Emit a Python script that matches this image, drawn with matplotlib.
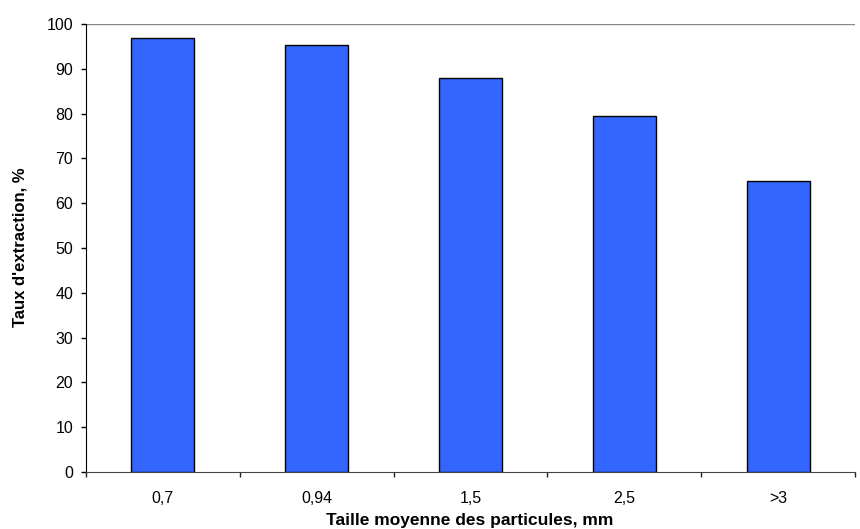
import matplotlib.pyplot as plt
import numpy as np

# Data
categories = ['0,7', '0,94', '1,5', '2,5', '>3']
taux = [96.8, 95.3, 87.9, 79.4, 65.0]

plt.rcParams['font.family'] = ['Liberation Sans', 'DejaVu Sans']

W, H = 860, 529
fig = plt.figure(figsize=(W / 100, H / 100), dpi=100)
ax = fig.add_axes([86 / W, 1 - 472 / H, (855 - 86) / W, (472 - 24) / H])

x = np.arange(len(categories))
ax.bar(x, taux, width=0.41, color='#3366FF', edgecolor='black', linewidth=1.0, zorder=3)

ax.set_xlim(-0.5, len(categories) - 0.5)
ax.set_ylim(0, 100)
ax.set_yticks(np.arange(0, 101, 10))
ax.tick_params(axis='y', labelsize=11.5, length=3.6, direction='out', width=1, pad=5.5)

# category labels centred, tick marks between categories
ax.set_xticks(x)
ax.set_xticklabels(categories, fontsize=11.5)
ax.tick_params(axis='x', length=0, pad=13.5)
ax.set_xticks(np.arange(-0.5, len(categories)), minor=True)
ax.tick_params(axis='x', which='minor', length=3.6, width=1, direction='out', color='#222222')

ax.axhline(100, color='#888888', linewidth=1, zorder=1)
ax.spines['top'].set_visible(False)
ax.spines['right'].set_visible(False)
ax.spines['left'].set_color('black')
ax.spines['bottom'].set_color('#444444')

fig.text(20 / W, 1 - 247 / H, "Taux d'extraction, %", rotation=90, fontsize=12,
         fontweight='bold', ha='center', va='center')
fig.text(470 / W, 1 - 521 / H, 'Taille moyenne des particules, mm', fontsize=12.5,
         fontweight='bold', ha='center', va='center')

fig.savefig('out.png', dpi=100)
